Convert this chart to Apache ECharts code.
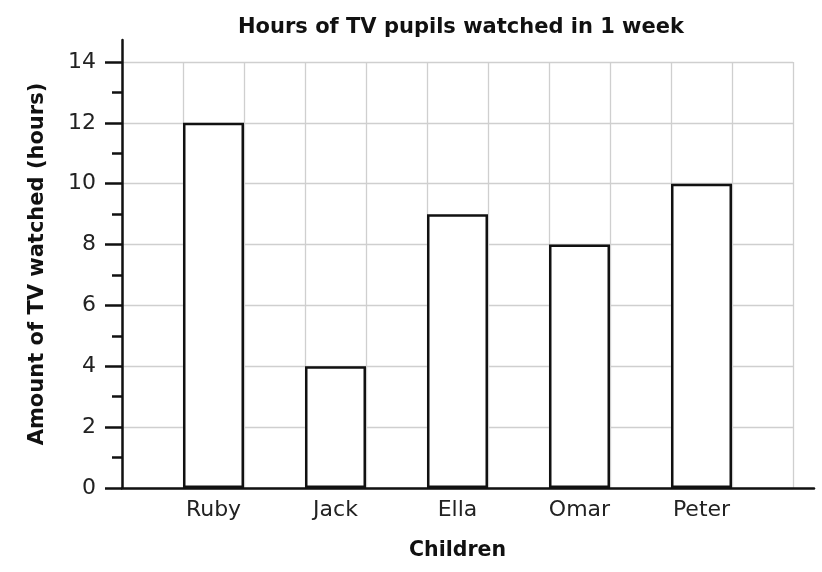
<!DOCTYPE html>
<html><head><meta charset="utf-8">
<script src="https://cdn.jsdelivr.net/npm/echarts@6/dist/echarts.min.js"></script>
<style>html,body{margin:0;padding:0;background:#fff}#c{width:822px;height:572px}</style>
</head><body><div id="c"></div>
<script>
const titleText = "Hours of TV pupils watched in 1 week";
const xTitle = "Children";
const yTitle = "Amount of TV watched (hours)";
const children = ["Ruby", "Jack", "Ella", "Omar", "Peter"];
const hours = [12, 4, 9, 8, 10];
const yTicks = [0, 2, 4, 6, 8, 10, 12, 14];

// 11 equal slots: empty slot, child, empty slot, child ... empty slot
const slots = [];
const slotValues = [];
slots.push(''); slotValues.push(null);
children.forEach((c, i) => {
  slots.push(c); slotValues.push(hours[i]);
  slots.push(''); slotValues.push(null);
});

const font = "'DejaVu Sans', sans-serif";
const chart = echarts.init(document.getElementById('c'), null, {renderer: 'canvas'});
chart.setOption({
  animation: false,
  backgroundColor: '#fff',
  title: {
    text: titleText, left: 456, top: 12, textAlign: 'center',
    textStyle: {fontFamily: font, fontSize: 21, fontWeight: 'bold', color: '#111'}
  },
  grid: [
    {left: 122, top: 62, width: 671, bottom: 84, containLabel: false},
    {left: 122, top: 40, right: 8, bottom: 84, containLabel: false}
  ],
  xAxis: [
    {
      type: 'category', gridIndex: 0, data: slots, boundaryGap: true,
      axisLine: {show: false}, axisTick: {show: false},
      axisLabel: {interval: 0, margin: 11, fontFamily: font, fontSize: 22, color: '#222'},
      splitLine: {show: true, interval: 0, lineStyle: {color: '#cfcfcf', width: 1.3}},
      name: xTitle, nameLocation: 'middle', nameGap: 52,
      nameTextStyle: {fontFamily: font, fontSize: 20.5, fontWeight: 'bold', color: '#111'}
    },
    {
      type: 'value', gridIndex: 1, min: 0, max: 1,
      axisLine: {show: true, lineStyle: {color: '#111', width: 2.5}},
      axisTick: {show: false}, axisLabel: {show: false}, splitLine: {show: false}
    }
  ],
  yAxis: [
    {
      type: 'value', gridIndex: 0, min: yTicks[0], max: yTicks[yTicks.length - 1], interval: 2,
      axisLine: {show: false},
      axisTick: {show: true, length: 17, lineStyle: {color: '#111', width: 2.5}},
      minorTick: {show: true, splitNumber: 2, length: 10, lineStyle: {color: '#111', width: 2.5}},
      axisLabel: {margin: 26, fontFamily: font, fontSize: 22, color: '#222'},
      splitLine: {show: true, lineStyle: {color: '#cfcfcf', width: 1.3}}
    },
    {
      type: 'value', gridIndex: 1, min: 0, max: 1,
      axisLine: {show: true, onZero: false, lineStyle: {color: '#111', width: 2.5}},
      axisTick: {show: false}, axisLabel: {show: false}, splitLine: {show: false},
      name: yTitle, nameLocation: 'middle', nameGap: 74,
      nameTextStyle: {fontFamily: font, fontSize: 21, fontWeight: 'bold', color: '#111'}
    }
  ],
  series: [{
    type: 'bar', xAxisIndex: 0, yAxisIndex: 0, data: slotValues,
    barWidth: '100%', barGap: '0%',
    itemStyle: {color: '#fff', borderColor: '#111', borderWidth: 2.5},
    z: 3
  }]
});
</script></body></html>
